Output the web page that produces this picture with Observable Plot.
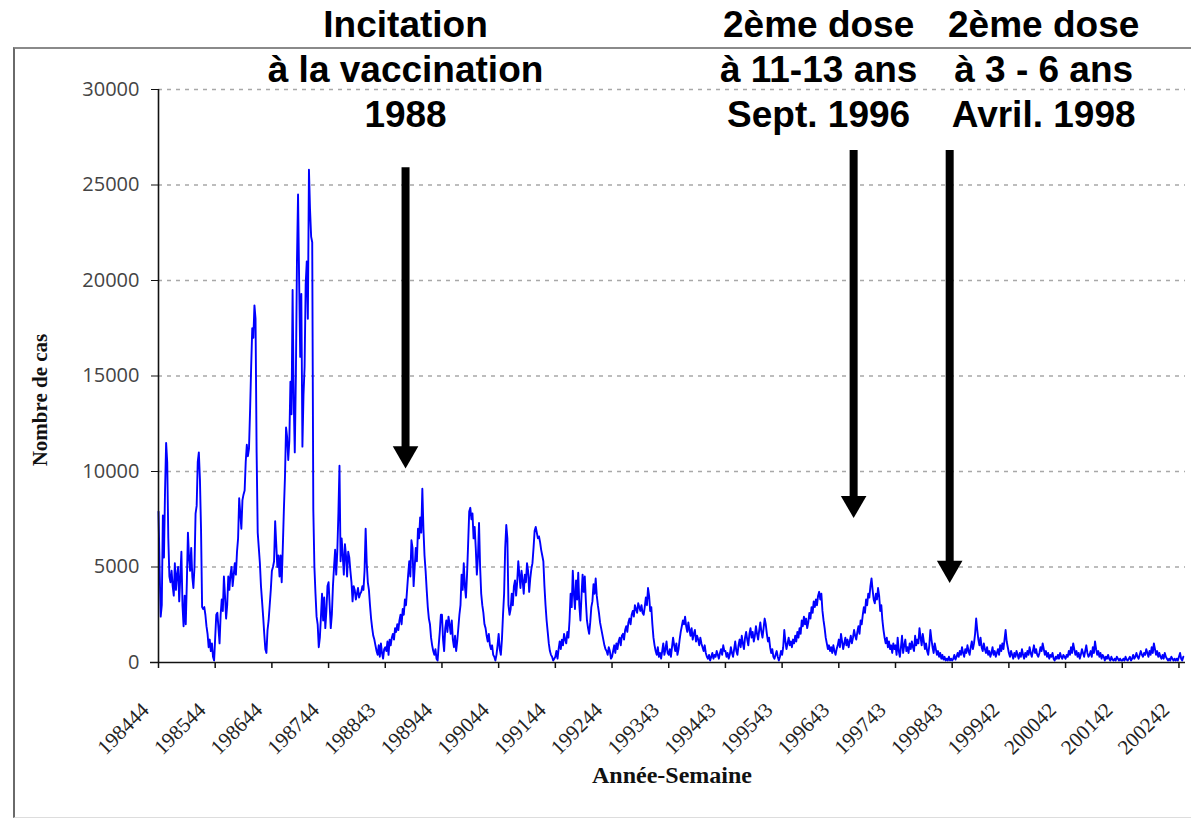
<!DOCTYPE html>
<html><head><meta charset="utf-8">
<script src="https://cdn.jsdelivr.net/npm/d3@7"></script>
<script src="https://cdn.jsdelivr.net/npm/@observablehq/plot@0.6"></script>
<style>
html,body{margin:0;padding:0;background:#fff;}
#wrap{position:relative;width:1191px;height:819px;overflow:hidden;}
#frame{position:absolute;left:13px;top:47px;width:1190px;height:768px;border-top:2px solid #8a8a8a;border-left:2px solid #6a6a6a;border-bottom:1px solid #dddddd;}
#chart{position:absolute;left:0;top:0;}
</style></head><body>
<div id="wrap"><div id="frame"></div><div id="chart"></div></div>
<script>
// Weekly measles cases, one array per season (week 44 -> week 43 of next year)
const s1984 = [7900,5000,2400,3000,7700,5500,9000,11500,10500,6500,4500,4200,4800,4000,3500,5200,3800,4600,5000,3200,4500,5800,3000,1900,3500,2000,4200,6800,5500,4800,6000,4500,3900,5000,7800,8200,10500,11000,9600,7000,2900,2800,2900,2500,1900,1500,800,1200,600,1000,300,100];
const s1985 = [1300,2500,2600,1800,1000,2500,3300,2700,4500,3500,2300,3000,4500,3800,4600,5000,4000,4600,5200,4600,5800,6500,8600,7800,7000,8500,8800,9000,10500,11400,10800,11200,13200,15500,17500,17000,18700,18000,11000,6800,6000,5200,4000,3200,2400,1500,700,500,1700,2200,3000,3800];
const s1986 = [4800,5000,5300,7400,6200,5000,5600,4500,5600,4200,6000,8000,9700,12300,11800,10600,11600,14700,13000,19500,13800,11000,15000,21000,24500,20000,16000,19300,11300,14000,15500,19800,21000,18000,25800,23700,22300,22000,8000,5000,3600,2400,2000,800,1300,2400,3600,2200,3400,1800,2700,4000];
const s1987 = [4200,3000,1800,2500,4000,5000,5900,4600,5800,7800,10300,5300,6500,5600,4600,6200,5600,4500,5800,5500,4800,4200,3200,4000,3800,3300,3600,3900,3400,3600,3700,4000,3800,4800,7000,5200,4200,3800,3000,2300,1800,1400,1200,900,600,400,900,300,1000,500,200,700];
const s1988 = [800,600,1100,400,1200,900,1300,1500,1200,1800,1600,2000,1700,2200,2500,2000,2800,2500,3300,3000,3800,4600,5300,4500,6400,6000,4000,5000,6000,5300,7000,6500,7600,6800,9100,7000,5600,4800,3800,2900,2300,2000,1300,900,600,400,700,200,100,900,1600,2500];
const s1989 = [2500,1200,600,1800,2200,1600,2400,2000,1500,2200,1200,800,1400,600,1100,1800,2500,3000,4600,3800,5200,4000,3400,4600,6200,7900,8100,7500,7800,6500,7100,6000,4600,5500,7300,5000,3600,3000,2600,2000,1800,1400,1100,1500,900,700,900,400,300,100,400,900];
const s1990 = [1500,700,400,1200,2500,3600,6000,7200,6500,3000,2500,2800,3600,3000,4000,4300,3500,4200,5300,4600,3900,4800,4300,3600,4600,4200,5200,4800,3700,4400,4900,5200,6000,6900,7100,6800,6500,6600,6300,5900,5600,5300,4000,3000,2200,1600,1000,600,400,300,100,200];
const s1991 = [300,600,200,700,1100,700,1200,900,1500,1200,1000,1600,1300,2200,3600,2900,4800,3600,2800,4300,3300,4700,3000,2200,3500,4600,3700,4500,3200,2200,1800,1500,2100,2900,3200,4100,3600,4400,3500,3000,2600,2100,1800,1500,1200,900,700,600,400,800,600,200];
const s1992 = [300,600,900,500,1000,700,1100,1300,900,1400,1500,1200,1700,1900,1600,2100,2300,2000,2500,2700,2400,3000,2800,2600,3100,2900,2700,3000,2600,2500,2900,3400,3000,3900,3500,2700,2900,2000,1300,900,600,400,800,300,500,200,600,1000,400,700,1100,500];
const s1993 = [400,700,300,800,1300,900,600,1000,400,700,1200,1600,1900,2200,2000,2400,1900,1600,2100,1700,1400,1800,1200,1500,1700,1100,1400,1200,900,1300,1000,800,600,900,500,300,200,400,100,300,500,200,400,300,600,400,200,500,700,400,900,600];
const s1994 = [600,300,500,200,400,800,500,300,700,1100,600,400,900,1200,800,1400,1000,700,1300,1600,1200,900,1500,1800,1300,1600,1100,1400,1900,1500,1200,1700,2100,1600,1300,1800,2300,2000,1500,1100,1300,800,500,700,300,200,400,600,300,100,300,600];
const s1995 = [400,800,1700,1100,700,1000,1300,900,1100,800,1200,1000,1400,1100,1600,1300,1800,1500,2200,1900,2400,2000,2300,1800,2100,2600,2300,2900,2600,3200,2900,3300,3000,3500,3700,3300,3600,2700,2200,1800,1300,1000,700,900,600,800,500,900,600,400,700,900];
const s1996 = [1200,800,1500,1100,700,1000,1300,900,1200,800,1100,1400,1000,1300,1700,1400,1200,1600,1900,1500,2200,2000,2500,2900,2600,3300,3000,3600,3400,4000,4400,3800,3300,3100,3600,3300,3900,3500,2700,3000,2200,1700,1300,1000,1300,800,1100,700,900,500,1000,700];
const s1997 = [900,400,1300,600,300,800,1400,500,900,1200,600,800,500,1000,700,1100,800,600,1400,900,1200,1000,1800,1300,900,1500,1100,700,1000,600,400,900,1700,1200,800,500,1000,700,400,600,300,500,200,400,150,300,100,200,100,300,100,200];
const s1998 = [100,200,400,150,300,500,300,600,400,800,500,300,700,500,900,600,400,800,1100,700,1000,1500,2300,1700,1200,900,1300,800,600,1000,700,500,800,400,600,300,500,800,400,600,300,500,700,400,900,600,1000,700,1200,1700,1100,800];
const s1999 = [500,300,600,400,200,500,300,600,400,200,500,300,700,400,200,500,300,600,400,800,500,300,600,900,500,700,400,300,500,800,600,1000,700,400,600,300,500,200,400,300,500,200,100,300,200,400,200,500,300,200,400,300];
const s2000 = [200,400,300,600,400,800,500,1000,700,400,600,300,500,200,400,700,500,300,600,900,500,300,400,600,300,800,500,1100,700,400,600,300,500,200,400,300,100,300,200,400,200,100,300,150,100,200,100,300,200,100,200,100];
const s2001 = [100,200,100,300,150,100,200,300,100,200,400,200,300,500,300,200,400,600,400,300,500,400,700,500,300,600,400,800,500,1000,700,400,600,300,500,300,200,400,200,500,300,200,100,200,100,300,200,100,200,100,200,100];
const s2002 = [300,500,200,100,300];

const tickLabels = ["198444","198544","198644","198744","198843","198944","199044","199144","199244","199343","199443","199543","199643","199743","199843","199942","200042","200142","200242"];
const yTicks = [0,5000,10000,15000,20000,25000,30000];

// Annotations: text, week index of arrow, week index of text centre, arrow top and tip (cases)
const events = ["Incitation\nà la vaccination\n1988", "2ème dose\nà 11-13 ans\nSept. 1996", "2ème dose\nà 3 - 6 ans\nAvril. 1998"];
const eventWeeks = [226.6, 637.6, 725.7];
const eventTextWeeks = [226.6, 605.5, 811.9];
const arrowTop = [25900, 26800, 26800];
const arrowTip = [10150, 7550, 4150];

const cases = [].concat(s1984,s1985,s1986,s1987,s1988,s1989,s1990,s1991,s1992,s1993,s1994,s1995,s1996,s1997,s1998,s1999,s2000,s2001,s2002);
const data = cases.map((v, i) => ({week: i, cases: v}));
const tickWeeks = tickLabels.map((_, k) => k * 52);
const ev = d3.range(events.length);

const chart = Plot.plot({
  width: 1191, height: 819,
  marginLeft: 158, marginRight: 6, marginTop: 89, marginBottom: 157,
  style: {background: "transparent", fontFamily: "Liberation Serif", fontSize: "20px", overflow: "visible"},
  x: {domain: [0, 942]},
  y: {domain: [0, 30000]},
  marks: [
    Plot.gridY(yTicks.slice(1), {stroke: "#a8a8a8", strokeOpacity: 1, strokeDasharray: "4,5", strokeWidth: 1.5}),
    Plot.line(data, {x: "week", y: "cases", stroke: "#0000ff", strokeWidth: 1.9}),
    Plot.ruleX([0], {stroke: "#111", strokeWidth: 1.6}),
    Plot.ruleY([0], {stroke: "#111", strokeWidth: 1.6, insetLeft: -8}),
    Plot.axisY(yTicks, {tickSize: 7, tickPadding: 12, tickFormat: d => String(d), fontFamily: "Open Sans", fontSize: 20, fill: "#444", label: null, stroke: "#111"}),
    Plot.axisX(tickWeeks, {tickSize: 6, tickFormat: () => "", label: null, stroke: "#111", strokeWidth: 1.5}),
    Plot.axisX(tickWeeks, {tickSize: 6, tickPadding: 22, tickRotate: -45, tickFormat: d => tickLabels[Math.round(d / 52)], fontFamily: "Liberation Serif", fontSize: 21, fill: "#222", label: null, stroke: "none", dx: -13, dy: 16}),
    Plot.text(["Nombre de cas"], {frameAnchor: "left", textAnchor: "middle", rotate: -90, dx: -118, dy: 24, fontWeight: "bold", fontSize: 21, fontFamily: "Liberation Serif", fill: "#111"}),
    Plot.text(["Année-Semaine"], {frameAnchor: "bottom", dy: 120, fontWeight: "bold", fontSize: 24, fontFamily: "Liberation Serif", fill: "#111"}),
    Plot.ruleX(ev, {x: i => eventWeeks[i], y1: i => arrowTop[i], y2: i => arrowTip[i], stroke: "black", strokeWidth: 8, insetBottom: 18}),
    Plot.dot(ev, {x: i => eventWeeks[i], y: i => arrowTip[i], symbol: "triangle", rotate: 180, r: 9.5, fill: "black", stroke: "none", dy: -15}),
    Plot.text(ev, {x: i => eventTextWeeks[i], y: 31130, text: i => events[i], fontSize: 37, fontWeight: "bold", fontFamily: "Liberation Sans", lineHeight: 1.22, fill: "black"})
  ]
});
document.getElementById("chart").appendChild(chart);
</script>
</body></html>
